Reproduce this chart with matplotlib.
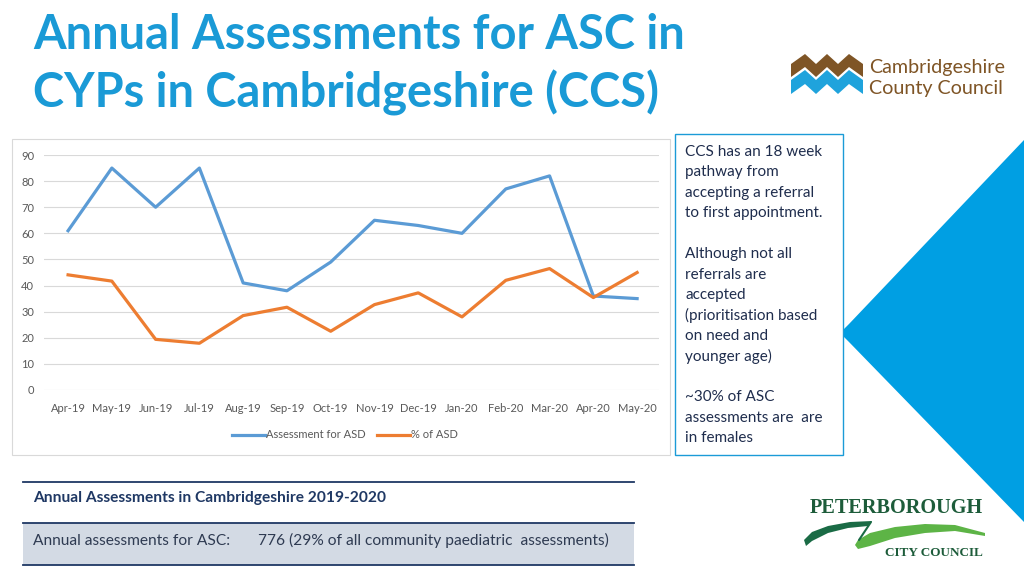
import matplotlib
matplotlib.use("Agg")
import matplotlib.pyplot as plt
from matplotlib.patches import Rectangle, Polygon

# ---------------- data ----------------
months = ["Apr-19", "May-19", "Jun-19", "Jul-19", "Aug-19", "Sep-19", "Oct-19",
          "Nov-19", "Dec-19", "Jan-20", "Feb-20", "Mar-20", "Apr-20", "May-20"]
assessments_asd = [61, 85, 70, 85, 41, 38, 49, 65, 63, 60, 77, 82, 36, 35]
pct_asd = [44.1, 41.7, 19.4, 17.9, 28.5, 31.7, 22.5, 32.7, 37.2, 28.0, 42.0, 46.5, 35.4, 45.0]
series_names = ["Assessment for ASD", "% of ASD"]
y_ticks = [0, 10, 20, 30, 40, 50, 60, 70, 80, 90]

title_lines = ["Annual Assessments for ASC in", "CYPs in Cambridgeshire (CCS)"]
box_lines = ["CCS has an 18 week", "pathway from", "accepting a referral",
             "to first appointment.", "", "Although not all", "referrals are",
             "accepted", "(prioritisation based", "on need and", "younger age)", "",
             "~30% of ASC", "assessments are  are", "in females"]
table_header = "Annual Assessments in Cambridgeshire 2019-2020"
table_label = "Annual assessments for ASC:"
table_value = "776 (29% of all community paediatric  assessments)"

plt.rcParams['font.family'] = ['Lato', 'DejaVu Sans']

W, H = 1024, 576
fig = plt.figure(figsize=(W / 100, H / 100), dpi=100)
fig.patch.set_facecolor("white")

# decoration layer in pixel coordinates
deco = fig.add_axes([0, 0, 1, 1], zorder=0)
deco.set_xlim(0, W)
deco.set_ylim(H, 0)
deco.axis("off")

# big blue shape on right
shape = Polygon([(1024, 140), (849, 324), (844, 329), (842, 333), (844, 337),
                 (849, 342), (1024, 522)], closed=True, facecolor="#009FE3",
                edgecolor="none", zorder=1)
deco.add_patch(shape)

# chart frame
deco.add_patch(Rectangle((12, 139), 658, 316, facecolor="white",
                         edgecolor="#D9D9D9", lw=0.8, zorder=2))

# text box
deco.add_patch(Rectangle((675, 134), 168, 321, facecolor="white",
                         edgecolor="#1B9BD7", lw=1.0, zorder=3))
for i, line in enumerate(box_lines):
    deco.text(685, 156 + 20.45 * i, line, fontsize=11, color="#1F2D4D",
              va="baseline", ha="left", zorder=4)

# title
title_color = "#1A9AD6"
deco.text(33, 49, title_lines[0], fontsize=33.8, fontweight="bold",
          color=title_color, va="baseline", ha="left")
deco.text(33, 107, title_lines[1], fontsize=33.8, fontweight="bold",
          color=title_color, va="baseline", ha="left")

# table
deco.add_patch(Rectangle((23, 523), 611, 42, facecolor="#D3DAE4",
                         edgecolor="none", zorder=1))
for yy in (482, 523, 565):
    deco.plot([23, 634], [yy, yy], color="#1F3864", lw=1.3, zorder=2)
deco.text(33, 502, table_header, fontsize=11.2, fontweight="bold",
          color="#1F3864", va="baseline", ha="left")
deco.text(33, 545, table_label, fontsize=11.2, color="#2F3B52",
          va="baseline", ha="left")
deco.text(258, 545, table_value, fontsize=11.2, color="#2F3B52",
          va="baseline", ha="left")

# Cambridgeshire County Council logo
brown = "#7F5526"
cblue = "#1FA3DC"
px = [791, 805, 816, 827, 838, 849, 863]
top = [64, 54, 64, 54, 64, 54, 64]
brown_poly = [(x, y) for x, y in zip(px, top)] + \
             [(x, y + 13) for x, y in reversed(list(zip(px, top)))]
deco.add_patch(Polygon(brown_poly, closed=True, facecolor=brown, edgecolor="none"))
btop = [y + 16 for y in top]
blue_poly = [(x, y) for x, y in zip(px, btop)] + \
            [(x, y + 14) for x, y in reversed(list(zip(px, btop)))]
deco.add_patch(Polygon(blue_poly, closed=True, facecolor=cblue, edgecolor="none"))
deco.text(869, 73, "Cambridgeshire", fontsize=14.2, color=brown, va="baseline", ha="left")
deco.text(869, 94, "County Council", fontsize=14.2, color=brown, va="baseline", ha="left")

# Peterborough City Council logo
pg = "#1D5C3A"
deco.text(896.5, 513, "PETERBOROUGH", fontsize=14.6, fontweight="bold",
          family=["Liberation Serif", "DejaVu Serif"], color=pg,
          va="baseline", ha="center")
deco.text(934, 556, "CITY COUNCIL", fontsize=9.5, fontweight="bold",
          family=["Liberation Serif", "DejaVu Serif"], color=pg,
          va="baseline", ha="center")
dark_sw = Polygon([(804, 540), (812, 532), (828, 526), (850, 522), (872, 521),
                   (868, 526), (848, 528), (828, 533), (812, 541), (806, 546)],
                  closed=True, facecolor="#1A6B45", edgecolor="none")
deco.add_patch(dark_sw)
deco.plot([871, 859], [522, 540], color="#1A6B45", lw=1.5, solid_capstyle="round")
light_sw = Polygon([(858, 540), (870, 533), (895, 527), (925, 524), (955, 525),
                    (985, 533), (985, 536), (955, 531), (925, 533), (895, 538),
                    (870, 546), (858, 549), (855, 545)],
                   closed=True, facecolor="#5DB446", edgecolor="none")
deco.add_patch(light_sw)

# ---------------- chart ----------------
left, right, ytop, ybot = 44, 659, 155, 390
ax = fig.add_axes([left / W, 1 - ybot / H, (right - left) / W, (ybot - ytop) / H],
                  zorder=5)
ax.patch.set_alpha(0)
x = list(range(len(months)))
l1, = ax.plot(x, assessments_asd, color="#5B9BD5", lw=2.3, solid_joinstyle="round")
l2, = ax.plot(x, pct_asd, color="#ED7D31", lw=2.3, solid_joinstyle="round")
ax.set_xlim(-0.55, len(months) - 0.5)
ax.set_ylim(0, 90)
ax.set_yticks(y_ticks)
ax.set_xticks(x)
ax.set_xticklabels(months)
ax.tick_params(length=0, labelsize=8, labelcolor="#595959")
ax.tick_params(axis="y", pad=7)
ax.tick_params(axis="x", pad=9)
ax.grid(axis="y", color="#D9D9D9", lw=0.8)
ax.set_axisbelow(True)
for s in ax.spines.values():
    s.set_visible(False)

leg = fig.legend([l1, l2], series_names, loc="center",
                 bbox_to_anchor=(345 / W, 1 - 435 / H), ncol=2, frameon=False,
                 fontsize=8, handlelength=3.0, handletextpad=0.1, columnspacing=1.0)
for t in leg.get_texts():
    t.set_color("#595959")

fig.savefig("out.png", dpi=100)
